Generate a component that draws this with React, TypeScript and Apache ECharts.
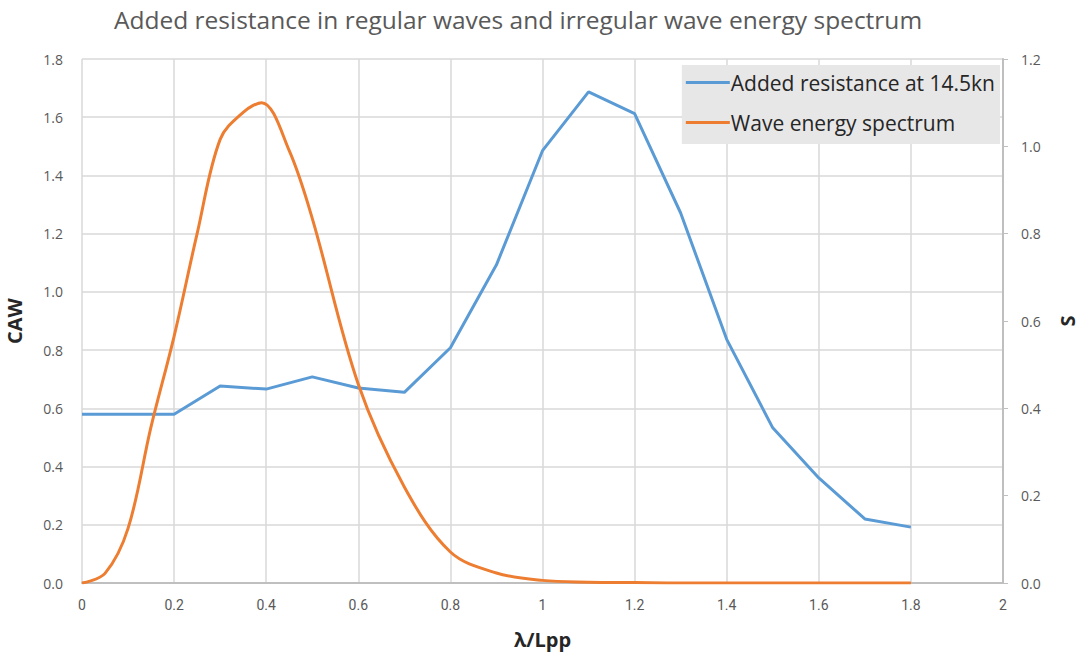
import React, { useEffect, useRef } from "react";
import * as echarts from "echarts";

const titleText = "Added resistance in regular waves and irregular wave energy spectrum";
const resistanceName = "Added resistance at 14.5kn";
const spectrumName = "Wave energy spectrum";

const resistanceX = [0, 0.1, 0.2, 0.3, 0.4, 0.5, 0.6, 0.7, 0.8, 0.9, 1.0, 1.1, 1.2, 1.3, 1.4, 1.5, 1.6, 1.7, 1.8];
const resistanceY = [0.58, 0.58, 0.58, 0.677, 0.666, 0.708, 0.67, 0.655, 0.808, 1.093, 1.485, 1.687, 1.612, 1.271, 0.837, 0.533, 0.361, 0.22, 0.192];

const spectrumX = [0, 0.05, 0.1, 0.15, 0.2, 0.25, 0.3, 0.35, 0.39, 0.45, 0.5, 0.6, 0.7, 0.8, 0.9, 1.0, 1.1, 1.2, 1.3, 1.4, 1.5, 1.6, 1.7, 1.8];
const spectrumY = [0, 0.022, 0.125, 0.358, 0.565, 0.8, 1.016, 1.078, 1.1, 0.99, 0.835, 0.455, 0.22, 0.071, 0.023, 0.006, 0.002, 0.001, 0, 0, 0, 0, 0, 0];

const xAxisName = "λ/Lpp";
const leftAxisName = "CAW";
const rightAxisName = "S";

export default function App() {
  const ref = useRef<HTMLDivElement>(null);
  useEffect(() => {
    document.body.style.margin = "0";
    document.body.style.overflow = "hidden";
    document.documentElement.style.overflow = "hidden";
    if (!ref.current) return;
    const chart = echarts.init(ref.current, null, { renderer: "svg" });
    const labelColor = "#595959";
    chart.setOption({
      animation: false,
      backgroundColor: "#ffffff",
      title: {
        text: titleText,
        left: 513,
        top: 2,
        textAlign: "center",
        textStyle: { fontFamily: "Open Sans", fontSize: 24.5, fontWeight: "normal", color: "#595959" },
      },
      legend: {
        right: 80,
        top: 65,
        orient: "vertical",
        backgroundColor: "#e8e7e7",
        padding: [7, 5, 11, 4],
        itemGap: 19,
        itemWidth: 44,
        itemHeight: 3,
        icon: "rect",
        textStyle: { fontFamily: "Open Sans", fontSize: 21, color: "#262626", padding: [0, 0, 0, -4] },
        data: [resistanceName, spectrumName],
      },
      grid: { left: 82, right: 77, top: 59, bottom: 71, containLabel: false, outerBoundsMode: "none" },
      xAxis: {
        type: "value",
        min: 0,
        max: 2,
        interval: 0.2,
        name: xAxisName,
        nameLocation: "middle",
        nameGap: 46,
        nameTextStyle: { fontFamily: "Open Sans", fontSize: 20, fontWeight: "bold", color: "#262626" },
        axisLine: { show: true, lineStyle: { color: "#bfbfbf", width: 2 } },
        axisTick: { show: false },
        axisLabel: { fontFamily: "Liberation Sans Narrow, Roboto", fontSize: 14, color: labelColor, margin: 15 },
        splitLine: { show: true, lineStyle: { color: "#d9d9d9", width: 1.5 } },
      },
      yAxis: [
        {
          type: "value",
          min: 0,
          max: 1.8,
          interval: 0.2,
          name: leftAxisName,
          nameLocation: "middle",
          nameGap: 58,
          nameRotate: 90,
          nameTextStyle: { fontFamily: "Open Sans", fontSize: 20, fontWeight: "bold", color: "#262626" },
          axisLine: { show: false },
          axisTick: { show: false },
          axisLabel: { fontFamily: "Open Sans", fontSize: 14, color: labelColor, margin: 19, formatter: (v: number) => v.toFixed(1) },
          splitLine: { show: true, lineStyle: { color: "#d9d9d9", width: 1.5 } },
        },
        {
          type: "value",
          min: 0,
          max: 1.2,
          interval: 0.2,
          name: rightAxisName,
          nameLocation: "middle",
          nameGap: 54,
          nameRotate: 90,
          nameTextStyle: { fontFamily: "Open Sans", fontSize: 20, fontWeight: "bold", color: "#262626" },
          position: "right",
          axisLine: { show: true, lineStyle: { color: "#bfbfbf", width: 2 } },
          axisTick: { show: true, length: 5, lineStyle: { color: "#bfbfbf" } },
          axisLabel: { fontFamily: "Open Sans", fontSize: 14, color: labelColor, margin: 18, formatter: (v: number) => v.toFixed(1) },
          splitLine: { show: false },
        },
      ],
      series: [
        {
          name: resistanceName,
          type: "line",
          yAxisIndex: 0,
          data: resistanceX.map((x, i) => [x, resistanceY[i]]),
          showSymbol: false,
          symbol: "none",
          lineStyle: { color: "#5b9bd5", width: 3 },
          itemStyle: { color: "#5b9bd5" },
        },
        {
          name: spectrumName,
          type: "line",
          yAxisIndex: 1,
          data: spectrumX.map((x, i) => [x, spectrumY[i]]),
          smooth: 0.35,
          showSymbol: false,
          symbol: "none",
          lineStyle: { color: "#ed7d31", width: 3 },
          itemStyle: { color: "#ed7d31" },
        },
      ],
    });
    return () => chart.dispose();
  }, []);
  return <div ref={ref} style={{ width: 1080, height: 654, position: "fixed", left: 0, top: 0 }} />;
}
